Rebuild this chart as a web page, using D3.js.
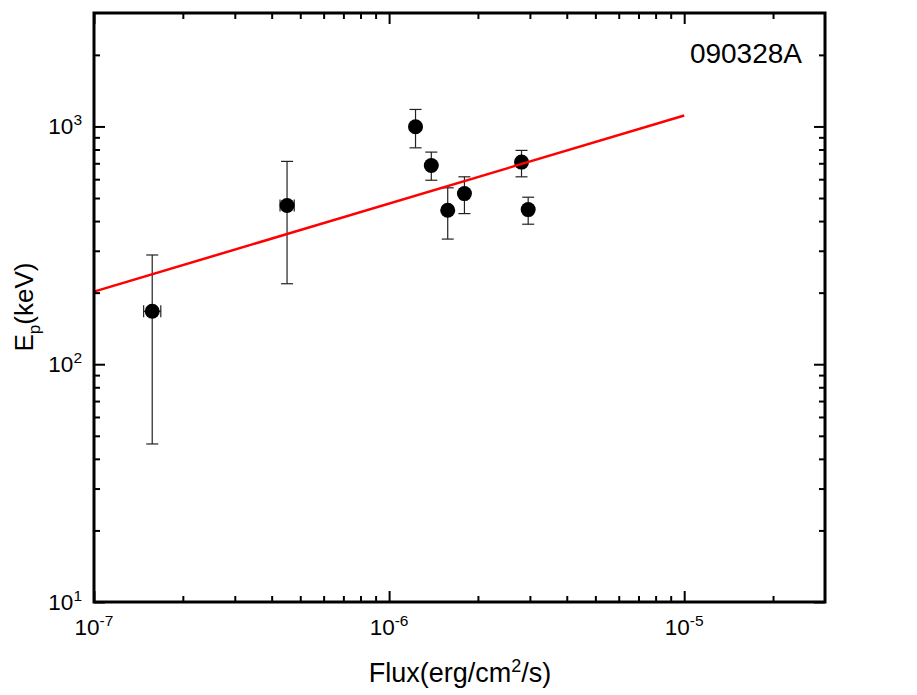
<!DOCTYPE html>
<html><head><meta charset="utf-8">
<script src="https://cdn.jsdelivr.net/npm/d3@7"></script>
<style>body{margin:0;background:#fff}svg{display:block}text{font-family:Arial,"Liberation Sans",sans-serif}</style>
</head><body><svg id="c" width="917" height="695"></svg>
<script>
// Data
const flux    = [1.575e-7, 4.51e-7, 1.229e-6, 1.39e-6, 1.58e-6, 1.80e-6, 2.81e-6, 2.96e-6];
const fluxLo  = [1.473e-7, 4.27e-7, null, null, null, null, null, null];
const fluxHi  = [1.684e-7, 4.77e-7, null, null, null, null, null, null];
const ep      = [167, 465, 997, 685, 444, 522, 708, 447];
const epLo    = [46.2, 218, 813, 594, 336, 430, 614, 388];
const epHi    = [288, 713, 1179, 780, 552, 614, 793, 504];
const fitX    = [1e-7, 1e-5];
const fitY    = [202, 1112];
const xTickExp = [-7, -6, -5];
const yTickExp = [1, 2, 3];
const label = "090328A";

const svg = d3.select("#c");
const L = 94, R = 825, T = 13, B = 602;
const x = d3.scaleLog().domain([1e-7, 3e-5]).range([L, R]);
const y = d3.scaleLog().domain([10, 3000]).range([B, T]);

// minor tick values
const xMinor = [], yMinor = [];
for (let e = -7; e <= -5; e++) for (let m = 2; m <= 9; m++) { const v = m * Math.pow(10, e); if (v < 3e-5) xMinor.push(v); }
for (let e = 1; e <= 3; e++) for (let m = 2; m <= 9; m++) { const v = m * Math.pow(10, e); if (v < 3000) yMinor.push(v); }
const xMajor = xTickExp.map(e => Math.pow(10, e));
const yMajor = yTickExp.map(e => Math.pow(10, e));

const plot = svg.append("g");

// error bars & markers
const eb = plot.append("g").attr("stroke", "#222").attr("stroke-width", 1.2).attr("fill", "none");
flux.forEach((f, i) => {
  const cx = x(f), cw = 6;
  eb.append("line").attr("x1", cx).attr("x2", cx).attr("y1", y(epLo[i])).attr("y2", y(epHi[i]));
  eb.append("line").attr("x1", cx - cw).attr("x2", cx + cw).attr("y1", y(epLo[i])).attr("y2", y(epLo[i]));
  eb.append("line").attr("x1", cx - cw).attr("x2", cx + cw).attr("y1", y(epHi[i])).attr("y2", y(epHi[i]));
  if (fluxLo[i] !== null) {
    const cy = y(ep[i]);
    eb.append("line").attr("x1", x(fluxLo[i])).attr("x2", x(fluxHi[i])).attr("y1", cy).attr("y2", cy);
    eb.append("line").attr("x1", x(fluxLo[i])).attr("x2", x(fluxLo[i])).attr("y1", cy - 6).attr("y2", cy + 6);
    eb.append("line").attr("x1", x(fluxHi[i])).attr("x2", x(fluxHi[i])).attr("y1", cy - 6).attr("y2", cy + 6);
  }
});
plot.append("g").selectAll("circle").data(flux).join("circle")
  .attr("cx", d => x(d)).attr("cy", (d, i) => y(ep[i])).attr("r", 7.5).attr("fill", "#000");

// fit line
plot.append("path").datum(fitX.map((v, i) => [v, fitY[i]]))
  .attr("d", d3.line().x(d => x(d[0])).y(d => y(d[1])))
  .attr("stroke", "#ff0000").attr("stroke-width", 2.5).attr("fill", "none");

// axes with inward ticks
function ticks(axisGen, transform, vals, size) {
  svg.append("g").attr("transform", transform)
    .call(axisGen.tickValues(vals).tickSize(size).tickFormat(""))
    .call(g => g.select(".domain").remove())
    .call(g => g.selectAll("line").attr("stroke", "#000").attr("stroke-width", 2));
}
ticks(d3.axisTop(x), `translate(0,${B})`, xMajor, 11);
ticks(d3.axisTop(x), `translate(0,${B})`, xMinor, 6);
ticks(d3.axisBottom(x), `translate(0,${T})`, xMajor, 11);
ticks(d3.axisBottom(x), `translate(0,${T})`, xMinor, 6);
ticks(d3.axisRight(y), `translate(${L},0)`, yMajor, 11);
ticks(d3.axisRight(y), `translate(${L},0)`, yMinor, 6);
ticks(d3.axisLeft(y), `translate(${R},0)`, yMajor, 11);
ticks(d3.axisLeft(y), `translate(${R},0)`, yMinor, 6);

// frame
svg.append("rect").attr("x", L).attr("y", T).attr("width", R - L).attr("height", B - T)
  .attr("fill", "none").attr("stroke", "#000").attr("stroke-width", 3);

// tick labels
xTickExp.forEach(e => {
  const t = svg.append("text").attr("x", x(Math.pow(10, e))).attr("y", 635)
    .attr("text-anchor", "middle").attr("font-size", 22.5);
  t.append("tspan").text("10");
  t.append("tspan").attr("dy", -9).attr("font-size", 15.5).text(e);
});
yTickExp.forEach(e => {
  const t = svg.append("text").attr("x", 82).attr("y", y(Math.pow(10, e)) + 8)
    .attr("text-anchor", "end").attr("font-size", 22.5);
  t.append("tspan").text("10");
  t.append("tspan").attr("dy", -9).attr("font-size", 15.5).text(e);
});

// axis titles
const xt = svg.append("text").attr("x", 460).attr("y", 682)
  .attr("text-anchor", "middle").attr("font-size", 27);
xt.append("tspan").text("Flux(erg/cm");
xt.append("tspan").attr("dy", -10).attr("font-size", 18).text("2");
xt.append("tspan").attr("dy", 10).text("/s)");

const yt = svg.append("text").attr("transform", `translate(33,307) rotate(-90)`)
  .attr("text-anchor", "middle").attr("font-size", 26);
yt.append("tspan").text("E");
yt.append("tspan").attr("dy", 7).attr("font-size", 17).text("p");
yt.append("tspan").attr("dy", -7).text("(keV)");

svg.append("text").attr("x", 802).attr("y", 63).attr("text-anchor", "end")
  .attr("font-size", 28).text(label);
</script></body></html>
